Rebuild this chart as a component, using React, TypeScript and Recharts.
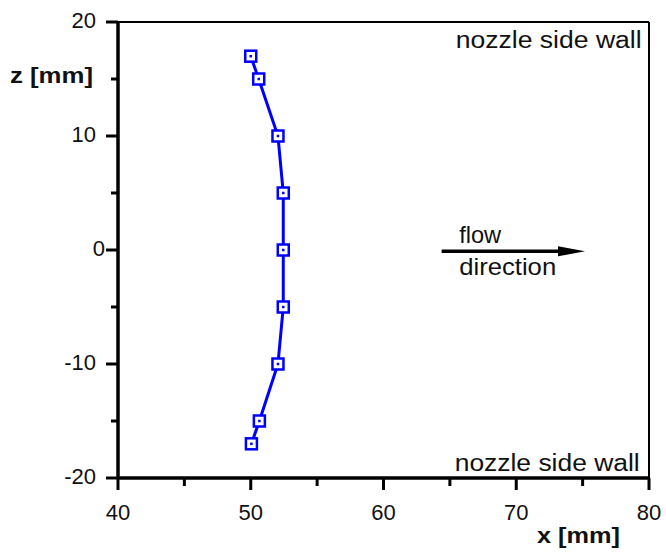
import React from "react";
import {
  ScatterChart,
  Scatter,
  XAxis,
  YAxis,
  ReferenceLine,
  ReferenceDot,
} from "recharts";

// measured profile: x position [mm] at each height z [mm]
const zValues = [17, 15, 10, 5, 0, -5, -10, -15, -17];
const xValues = [50, 50.6, 52.05, 52.45, 52.45, 52.45, 52.05, 50.65, 50.05];

const xTicks = [40, 45, 50, 55, 60, 65, 70, 75, 80];
const zTicks = [-20, -15, -10, -5, 0, 5, 10, 15, 20];

const FONT = "'Liberation Sans', Arial, Helvetica, sans-serif";
const BLUE = "#0000ff";

const data = zValues.map((z, i) => ({ x: xValues[i], z }));

const XTick = (props: any) => {
  const { x, y, payload } = props;
  const major = payload.value % 10 === 0;
  return (
    <g>
      <line x1={x} x2={x} y1={y} y2={y + (major ? 12 : 8)} stroke="#000" strokeWidth={3} />
      {major && (
        <text x={x} y={y + 42} textAnchor="middle" fontSize={22} fontFamily={FONT} fill="#111">
          {payload.value}
        </text>
      )}
    </g>
  );
};

const YTick = (props: any) => {
  const { x, y, payload } = props;
  const major = payload.value % 10 === 0;
  // the "0" label sits right against its tick
  const right = payload.value === 0 ? x - 13 : x - 22;
  return (
    <g>
      <line x1={x - (major ? 12 : 7)} x2={x} y1={y} y2={y} stroke="#000" strokeWidth={3} />
      {major && (
        <text x={right} y={y + 6} textAnchor="end" fontSize={22} fontFamily={FONT} fill="#111">
          {payload.value}
        </text>
      )}
    </g>
  );
};

const Marker = (props: any) => {
  const { cx, cy } = props;
  return (
    <g>
      <rect x={cx - 5.5} y={cy - 5.5} width={11} height={11} fill="#fff" stroke={BLUE} strokeWidth={2.5} />
      <rect x={cx - 1.25} y={cy - 1.25} width={2.5} height={2.5} fill={BLUE} />
    </g>
  );
};

const Arrow = (props: any) => {
  const { x1, y1, x2, y2 } = props;
  const head = 27;
  return (
    <g>
      <line x1={x1} y1={y1} x2={x2 - head + 2} y2={y2} stroke="#000" strokeWidth={3.5} />
      <polygon points={`${x2},${y2} ${x2 - head},${y2 - 5} ${x2 - head},${y2 + 5}`} fill="#000" />
    </g>
  );
};

const label = (text: string, anchor: "start" | "end", size: number, length: number) => (p: any) => (
  <text
    x={p.cx}
    y={p.cy}
    textAnchor={anchor}
    fontSize={size}
    fontFamily={FONT}
    fill="#111"
    textLength={length}
    lengthAdjust="spacingAndGlyphs"
  >
    {text}
  </text>
);

export default function App() {
  return (
    <div style={{ position: "absolute", left: 0, top: 0, background: "#fff" }}>
      <ScatterChart width={666} height={553} margin={{ top: 22, right: 17, left: 18, bottom: 25 }}>
        <XAxis
          type="number"
          dataKey="x"
          domain={[40, 80]}
          ticks={xTicks}
          interval={0}
          height={50}
          tickSize={0}
          tickMargin={0}
          tickLine={false}
          axisLine={{ stroke: "#000", strokeWidth: 3.5 }}
          tick={<XTick />}
        />
        <YAxis
          type="number"
          dataKey="z"
          domain={[-20, 20]}
          ticks={zTicks}
          interval={0}
          width={100}
          tickSize={0}
          tickMargin={0}
          tickLine={false}
          axisLine={{ stroke: "#000", strokeWidth: 3.5 }}
          tick={<YTick />}
        />
        <ReferenceLine y={20} stroke="#000" strokeWidth={2} />
        <ReferenceLine x={80} stroke="#000" strokeWidth={2} />
        <ReferenceLine
          segment={[
            { x: 64.38, y: -0.12 },
            { x: 75.18, y: -0.12 },
          ]}
          shape={<Arrow />}
        />
        <ReferenceDot x={79.45} y={17.72} r={0} shape={label("nozzle side wall", "end", 23, 186)} />
        <ReferenceDot x={79.3} y={-19.42} r={0} shape={label("nozzle side wall", "end", 23, 185)} />
        <ReferenceDot x={65.7} y={0.6} r={0} shape={label("flow", "start", 24, 42)} />
        <ReferenceDot x={65.7} y={-2.17} r={0} shape={label("direction", "start", 24, 97)} />
        <Scatter
          data={data}
          line={{ stroke: BLUE, strokeWidth: 3 }}
          lineType="joint"
          shape={<Marker />}
          fill={BLUE}
          isAnimationActive={false}
        />
        <text x={10} y={83} fontSize={22} fontWeight="bold" fontFamily={FONT} fill="#111" textLength={83} lengthAdjust="spacingAndGlyphs">
          z [mm]
        </text>
        <text x={537} y={543} fontSize={22} fontWeight="bold" fontFamily={FONT} fill="#111" textLength={83} lengthAdjust="spacingAndGlyphs">
          x [mm]
        </text>
      </ScatterChart>
    </div>
  );
}
